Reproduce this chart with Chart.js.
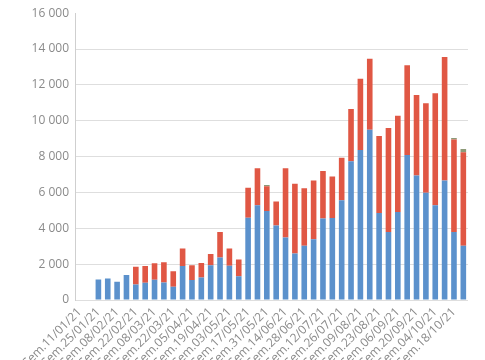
<!DOCTYPE html>
<html>
<head>
<meta charset="utf-8">
<script src="https://cdn.jsdelivr.net/npm/chart.js@4"></script>
<style>
    html, body { margin: 0; padding: 0; background: #fff; overflow: hidden; }
    #wrap { width: 485px; height: 360px; }
</style>
</head>
<body>
<div id="wrap"><canvas id="chart" width="485" height="360"></canvas></div>
<script>
const weeks = [
    "Sem.11/01/21", "Sem.18/01/21", "Sem.25/01/21", "Sem.01/02/21", "Sem.08/02/21", "Sem.15/02/21",
    "Sem.22/02/21", "Sem.01/03/21", "Sem.08/03/21", "Sem.15/03/21", "Sem.22/03/21", "Sem.29/03/21",
    "Sem.05/04/21", "Sem.12/04/21", "Sem.19/04/21", "Sem.26/04/21", "Sem.03/05/21", "Sem.10/05/21",
    "Sem.17/05/21", "Sem.24/05/21", "Sem.31/05/21", "Sem.07/06/21", "Sem.14/06/21", "Sem.21/06/21",
    "Sem.28/06/21", "Sem.05/07/21", "Sem.12/07/21", "Sem.19/07/21", "Sem.26/07/21", "Sem.02/08/21",
    "Sem.09/08/21", "Sem.16/08/21", "Sem.23/08/21", "Sem.30/08/21", "Sem.06/09/21", "Sem.13/09/21",
    "Sem.20/09/21", "Sem.27/09/21", "Sem.04/10/21", "Sem.11/10/21", "Sem.18/10/21", "Sem.25/10/21"
];

const blueValues = [
    0, 0, 1150, 1200, 1020, 1390, 870, 960, 1130, 980, 740, 1900,
    1110, 1260, 1940, 2370, 1910, 1330, 4590, 5280, 4960, 4150, 3480, 2600,
    3020, 3390, 4540, 4570, 5560, 7740, 8370, 9500, 4850, 3800, 4910, 8090,
    6940, 5980, 5280, 6670, 3800, 3020
];

const redValues = [
    0, 0, 0, 0, 0, 0, 980, 940, 920, 1120, 870, 970,
    830, 810, 620, 1430, 960, 930, 1670, 2070, 1390, 1350, 3870, 3880,
    3220, 3280, 2650, 2320, 2370, 2910, 3980, 3960, 4300, 5790, 5370, 5000,
    4490, 5000, 6260, 6890, 5160, 5220
];

const greyValues = [
    0, 0, 0, 0, 0, 0, 0, 0, 0, 0, 0, 0,
    0, 0, 0, 0, 0, 0, 0, 0, 60, 0, 0, 0,
    0, 0, 0, 0, 0, 0, 0, 0, 0, 0, 0, 0,
    0, 0, 0, 0, 80, 180
];

const yTicks = [0, 2000, 4000, 6000, 8000, 10000, 12000, 14000, 16000];

const fmt = v => String(v).replace(/\B(?=(\d{3})+(?!\d))/g, " ");

new Chart(document.getElementById("chart"), {
    type: "bar",
    data: {
        labels: weeks,
        datasets: [
            { label: "A", data: blueValues, backgroundColor: "#5b91cc" },
            { label: "B", data: redValues, backgroundColor: "#e05744" },
            { label: "C", data: greyValues, backgroundColor: "#8d9a78" }
        ]
    },
    options: {
        responsive: false,
        animation: false,
        layout: { padding: { top: 12, right: 17, left: 0, bottom: 0 } },
        datasets: { bar: { barPercentage: 0.6, categoryPercentage: 1 } },
        plugins: { legend: { display: false }, tooltip: { enabled: false } },
        scales: {
            x: {
                stacked: true,
                grid: { display: false, drawTicks: false },
                border: { display: false },
                afterFit: s => { s.height = 60; },
                ticks: {
                    autoSkip: false,
                    minRotation: 45,
                    maxRotation: 45,
                    padding: 5,
                    color: "#8a8a8a",
                    font: { family: "Open Sans", size: 12 },
                    callback: (v, i) => i % 2 === 0 ? weeks[i] : ""
                }
            },
            y: {
                stacked: true,
                min: 0,
                max: 16000,
                afterFit: s => { s.width = 75; },
                afterBuildTicks: s => { s.ticks = yTicks.map(v => ({ value: v })); },
                grid: {
                    drawTicks: false,
                    color: c => c.tick && c.tick.value === 16000 ? "rgba(0,0,0,0)" : "#dedede"
                },
                border: { display: true, color: "#cfcfcf" },
                ticks: {
                    padding: 6,
                    color: "#8a8a8a",
                    font: { family: "Open Sans", size: 12 },
                    callback: v => fmt(v)
                }
            }
        }
    }
});
</script>
</body>
</html>
